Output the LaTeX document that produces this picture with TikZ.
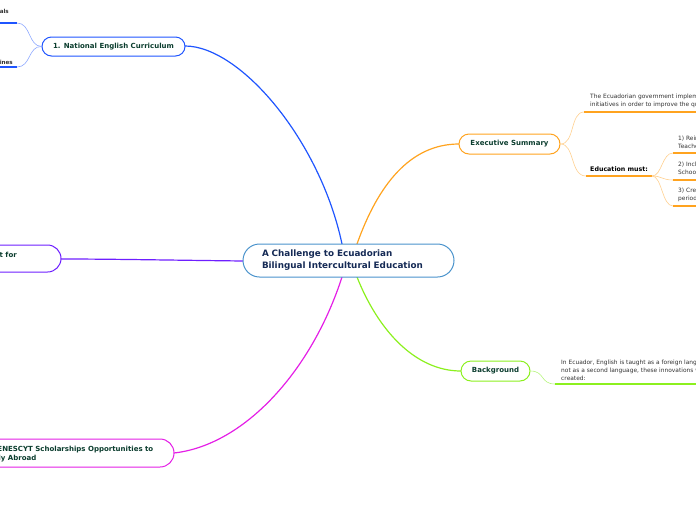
\documentclass[tikz,border=0pt]{standalone}
\usepackage{fontspec}
\setmainfont{DejaVu Sans}
\begin{document}
\begin{tikzpicture}[x=1pt,y=-1pt,
  topic/.style={draw,fill=white,line width=1pt,rounded corners=#1,inner sep=0pt,font=\fontsize{7}{9}\selectfont\bfseries,text=tdark},
  small/.style={font=\fontsize{5.9}{7.9}\selectfont,text=tgray,align=left,inner sep=0pt},
  lbl/.style={inner sep=0pt,font=\fontsize{7}{9}\selectfont\bfseries,text=tdark},
  branch/.style={line width=1.2pt},
  twig/.style={line width=0.6pt},
  uline/.style={line width=1.6pt}]
\definecolor{tdark}{HTML}{0B3D2E}
\definecolor{tnavy}{HTML}{152A55}
\definecolor{tgray}{HTML}{333333}
\definecolor{cblue}{HTML}{1F55FF}
\definecolor{lblue}{HTML}{8FA9FF}
\definecolor{corange}{HTML}{FFA31F}
\definecolor{lorange}{HTML}{FFD08F}
\definecolor{cgreen}{HTML}{8CF01F}
\definecolor{lgreen}{HTML}{B8F580}
\definecolor{cpurple}{HTML}{6E1FFF}
\definecolor{cmag}{HTML}{E41FE6}
\definecolor{ccent}{HTML}{4A93CC}
\useasboundingbox (0,0) rectangle (696,520);
\clip (0,0) rectangle (696,520);
\coordinate (cn1) at (342,244);
\coordinate (cn2) at (357,244);
\coordinate (cs1) at (342,277);
\coordinate (cs2) at (357,277);
\coordinate (cw) at (243,261);
% main branches
\draw[branch,cblue] (cn1) .. controls (320,140) and (240,46) .. (185,46) coordinate (natE);
\draw[branch,corange] (cn2) .. controls (378,185) and (410,144) .. (459,144) coordinate (exeW);
\draw[branch,cgreen] (cs2) .. controls (378,330) and (415,371) .. (461,371) coordinate (bgW);
\draw[branch,cpurple] (cw) .. controls (160,260) and (110,259) .. (61,259) coordinate (puE);
\draw[branch,cmag] (cs1) .. controls (312,370) and (245,445) .. (174,453) coordinate (mgE);
% nodes
\node[topic=16.5pt,draw=ccent,minimum width=211pt,minimum height=33pt,text width=173pt,align=left,font=\fontsize{8.8}{12}\selectfont\bfseries,text=tnavy] (c) at (348.5,260.5) {A Challenge to Ecuadorian\\Bilingual Intercultural Education};
\node[topic=9.5pt,draw=cblue,minimum width=143pt,minimum height=19pt] (nat) at (113.5,46.5) {1. National English Curriculum};
\node[topic=10pt,draw=corange,minimum width=101pt,minimum height=20pt] (exe) at (509.5,144) {Executive Summary};
\node[topic=10pt,draw=cgreen,minimum width=69pt,minimum height=20pt] (bg) at (495.5,371) {Background};
\node[topic=13.5pt,draw=cpurple,minimum width=121pt,minimum height=27pt] (pu) at (0.5,258.5) {};
\node[topic=14pt,draw=cmag,minimum width=324pt,minimum height=28pt] (mg) at (12,453) {};
\node[lbl,anchor=base east] (pulab) at (17,257.5) {Professional Support for};
\node[lbl,anchor=base east] (mglab) at (153.5,451.5) {5. SENESCYT Scholarships Opportunities to};
\node[lbl,anchor=base east] (mglab2) at (36.5,460.5) {Study Abroad};
% national twigs
\coordinate (n1) at (17,23);
\coordinate (n2) at (17,67);
\draw[twig,lblue] (nat.west) .. controls (28,46) and (31,23) .. (n1);
\draw[twig,lblue] (nat.west) .. controls (28,46) and (31,67) .. (n2);
\draw[uline,cblue] (n1) -- (-20,23);
\draw[uline,cblue] (n2) -- (-20,67);
\node[small,anchor=base east,font=\fontsize{5.6}{7.6}\selectfont\bfseries] (nt1) at (9,13) {Learning Goals};
\node[small,anchor=base east,font=\fontsize{5.6}{7.6}\selectfont\bfseries] (nt2) at (13,64) {Guidelines};
% executive twigs
\coordinate (e1) at (584,112);
\coordinate (e2) at (586,176);
\coordinate (e2r) at (652,176);
\draw[twig,lorange] (exe.east) .. controls (575,144) and (570,112) .. (e1);
\draw[twig,lorange] (exe.east) .. controls (575,144) and (570,176) .. (e2);
\draw[uline,corange] (e1) -- (700,112);
\draw[uline,corange] (e2) -- (e2r);
\node[small,anchor=base west] (et1) at (590,106.5) {The Ecuadorian government implemented some\\initiatives in order to improve the quality of};
\node[anchor=base west,inner sep=0pt,font=\fontsize{6.3}{8}\selectfont\bfseries,text=black] (et2) at (590,171) {Education must:};
\coordinate (f1) at (673,153);
\coordinate (f2) at (673,180);
\coordinate (f3) at (673,206);
\draw[twig,lorange] (e2r) .. controls (662,176) and (662,153) .. (f1);
\draw[twig,lorange] (e2r) .. controls (662,176) and (662,180) .. (f2);
\draw[twig,lorange] (e2r) .. controls (662,176) and (662,206) .. (f3);
\draw[uline,corange] (f1) -- (700,153);
\draw[uline,corange] (f2) -- (700,180);
\draw[uline,corange] (f3) -- (700,206);
\node[small,anchor=base west] (ft1) at (678,148.5) {1) Reinforce\\Teachers};
\node[small,anchor=base west] (ft2) at (678,174.5) {2) Include\\Schools};
\node[small,anchor=base west] (ft3) at (678,200.5) {3) Create\\periods};
% background twig
\coordinate (b1) at (555,384);
\draw[twig,lgreen] (bg.east) .. controls (545,371) and (540,384) .. (b1);
\draw[uline,cgreen] (b1) -- (700,384);
\node[small,anchor=base west] (bt1) at (561,380.5) {In Ecuador, English is taught as a foreign language and\\not as a second language, these innovations were\\created:};
\end{tikzpicture}
\end{document}
